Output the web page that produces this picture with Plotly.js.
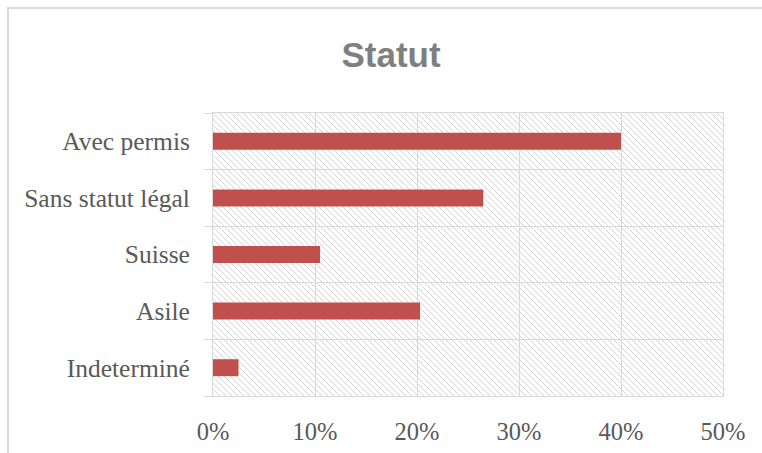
<!DOCTYPE html>
<html>
<head>
<meta charset="utf-8">
<script src="https://cdn.plot.ly/plotly-3.0.1.min.js"></script>
<style>
html,body{margin:0;padding:0;background:#fff;}
#wrap{position:relative;width:762px;height:453px;overflow:hidden;}
#chart{width:762px;height:453px;}
#frame{position:absolute;left:7px;top:7px;width:800px;height:500px;border-left:2px solid #d9d9d9;border-top:2px solid #d9d9d9;pointer-events:none;}
</style>
</head>
<body>
<div id="wrap"><div id="chart"></div><div id="frame"></div></div>
<script>
const categories = ["Avec permis", "Sans statut légal", "Suisse", "Asile", "Indeterminé"];
const values = [0.40, 0.265, 0.105, 0.203, 0.025];
const tickVals = [0, 0.1, 0.2, 0.3, 0.4, 0.5];
const tickText = ["0%", "10%", "20%", "30%", "40%", "50%"];

const hatch = '<svg xmlns="http://www.w3.org/2000/svg" width="510" height="283">' +
  '<defs><pattern id="p" width="6" height="6" patternUnits="userSpaceOnUse">' +
  '<path d="M-1,-1 L7,7 M-7,-1 L1,7 M5,-1 L13,7" stroke="#d6d6d6" stroke-width="1"/>' +
  '</pattern></defs><rect width="510" height="283" fill="url(#p)"/></svg>';
const hatchURI = 'data:image/svg+xml;charset=utf-8,' + encodeURIComponent(hatch);

const trace = {
  type: 'bar',
  orientation: 'h',
  y: categories,
  x: values,
  marker: {color: '#C0504D'},
  hoverinfo: 'skip'
};

const layout = {
  width: 762, height: 453,
  margin: {l: 213, r: 39, t: 113, b: 57},
  paper_bgcolor: '#ffffff',
  plot_bgcolor: 'rgba(0,0,0,0)',
  showlegend: false,
  bargap: 0.7,
  title: {
    text: '<b>Statut</b>',
    font: {family: 'Liberation Sans, Arial, sans-serif', size: 35, color: '#7f7f7f'},
    x: 391/762, xref: 'container', xanchor: 'center',
    y: 1 - 55/453, yref: 'container', yanchor: 'middle'
  },
  xaxis: {
    range: [0, 0.5],
    tickvals: tickVals,
    ticktext: tickText,
    showgrid: true,
    gridcolor: '#d9d9d9',
    gridwidth: 1,
    showline: true,
    mirror: true,
    linecolor: '#d9d9d9',
    linewidth: 1,
    ticks: '',
    zeroline: false,
    ticklabelstandoff: 14,
    tickfont: {family: 'Liberation Serif, Times New Roman, serif', size: 24.5, color: '#595959'},
    fixedrange: true
  },
  yaxis: {
    type: 'category',
    categoryorder: 'array',
    categoryarray: categories.slice().reverse(),
    tickson: 'boundaries',
    ticks: 'outside',
    ticklen: 8,
    tickcolor: '#d9d9d9',
    tickwidth: 1,
    showgrid: true,
    gridcolor: '#d9d9d9',
    gridwidth: 1,
    showline: true,
    mirror: true,
    linecolor: '#d9d9d9',
    linewidth: 1,
    ticklabelstandoff: 17,
    tickfont: {family: 'Liberation Serif, Times New Roman, serif', size: 25.5, color: '#595959'},
    fixedrange: true
  },
  images: [{
    source: hatchURI,
    xref: 'paper', yref: 'paper',
    x: 0, y: 1, sizex: 1, sizey: 1,
    xanchor: 'left', yanchor: 'top',
    sizing: 'stretch',
    layer: 'below'
  }]
};

Plotly.newPlot('chart', [trace], layout, {displayModeBar: false, staticPlot: true});
</script>
</body>
</html>
